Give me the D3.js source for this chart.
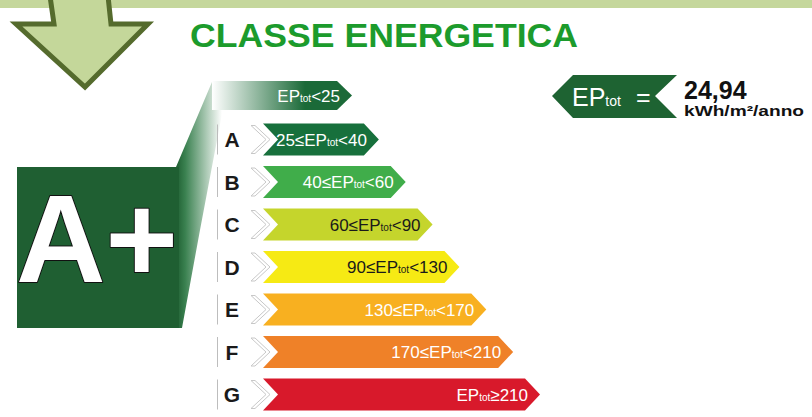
<!DOCTYPE html>
<html>
<head>
<meta charset="utf-8">
<script src="https://cdn.jsdelivr.net/npm/d3@7"></script>
<style>
  html, body { margin: 0; padding: 0; background: #fff; }
  svg { display: block; font-family: "Liberation Sans", Arial, sans-serif; }
</style>
</head>
<body>
<svg id="chart" width="812" height="417"></svg>
<script>
// rows of the energy label, top one is the A+ class
const rows = ['A+', 'A', 'B', 'C', 'D', 'E', 'F', 'G'];
const rowLetters = ['', 'A', 'B', 'C', 'D', 'E', 'F', 'G'];
// label text as [before, subscript, after]
const rowRanges = [
  ['EP', 'tot', '<25'],
  ['25≤EP', 'tot', '<40'],
  ['40≤EP', 'tot', '<60'],
  ['60≤EP', 'tot', '<90'],
  ['90≤EP', 'tot', '<130'],
  ['130≤EP', 'tot', '<170'],
  ['170≤EP', 'tot', '<210'],
  ['EP', 'tot', '≥210']
];
const rowColors = ['#1b6a38', '#17703c', '#40ad4a', '#c5d52c', '#f6ea14', '#f8b020', '#ef8128', '#d8192b'];
const rowTextColors = ['#fff', '#fff', '#fff', '#1a1a1a', '#1a1a1a', '#fff', '#fff', '#fff'];
const currentClass = 'A+';
const epTot = 24.94;
const epUnit = 'kWh/m²/anno';
const title = 'CLASSE ENERGETICA';

const svg = d3.select('#chart');
const defs = svg.append('defs');

// scales: one band per row, the tip of each bar steps right
const y = d3.scaleBand().domain(rows).range([81, 81 + 42.5 * (rows.length - 0.247)]).paddingInner(0.247);
const tipX = d3.scalePoint().domain(rows).range([352, 540]);
const barLeft = 263, notch = 15, tipDepth = 15;

// top band + arrow
svg.append('rect')
  .attr('x', 0).attr('y', 0).attr('width', 812).attr('height', 8)
  .attr('fill', '#c5d79c');
svg.append('path')
  .attr('d', 'M50,-4 L54,24 L16,24 L85,87 L148,24 L111,24 L108,-4')
  .attr('fill', '#c4d79a')
  .attr('stroke', '#556b2d')
  .attr('stroke-width', 5)
  .attr('stroke-linejoin', 'miter');

// title
svg.append('text')
  .attr('x', 190).attr('y', 47)
  .attr('font-size', 34).attr('font-weight', 'bold')
  .attr('fill', '#1c9b2c')
  .attr('textLength', 388)
  .attr('lengthAdjust', 'spacingAndGlyphs')
  .text(title);

// fold between the big box and the first bar
const foldGrad = defs.append('linearGradient')
  .attr('id', 'fold').attr('gradientUnits', 'userSpaceOnUse')
  .attr('x1', 176).attr('y1', 0).attr('x2', 222).attr('y2', 0);
foldGrad.append('stop').attr('offset', 0).attr('stop-color', '#1f5f32');
foldGrad.append('stop').attr('offset', 0.2).attr('stop-color', '#3a8150');
foldGrad.append('stop').attr('offset', 1).attr('stop-color', '#ffffff');
svg.append('path')
  .attr('d', 'M176,167 L212,82 L228,82 L200,230 L182,328 L176,328 Z')
  .attr('fill', 'url(#fold)');

// big class box
svg.append('rect')
  .attr('x', 17).attr('y', 167).attr('width', 162).attr('height', 161)
  .attr('fill', '#1f5f32');
svg.append('text')
  .attr('x', 16).attr('y', 282)
  .attr('font-size', 124).attr('font-weight', 'bold')
  .attr('fill', '#fff')
  .attr('stroke', '#111').attr('stroke-width', 2)
  .attr('paint-order', 'stroke')
  .attr('stroke-linejoin', 'round')
  .text(currentClass);

// gradient for the top bar
const topGrad = defs.append('linearGradient')
  .attr('id', 'topbar').attr('gradientUnits', 'userSpaceOnUse')
  .attr('x1', 212).attr('y1', 0).attr('x2', 305).attr('y2', 0);
topGrad.append('stop').attr('offset', 0).attr('stop-color', '#ffffff');
topGrad.append('stop').attr('offset', 1).attr('stop-color', rowColors[0]);

const data = rows.map((r, i) => ({
  key: r, letter: rowLetters[i], range: rowRanges[i],
  color: rowColors[i], textColor: rowTextColors[i], index: i
}));

const g = svg.selectAll('g.row').data(data).enter()
  .append('g').attr('class', 'row');

// separators, letters and grey chevrons (not for the top row)
const lettered = g.filter(d => d.index > 0);
lettered.append('line')
  .attr('x1', 217.5).attr('x2', 217.5)
  .attr('y1', d => y(d.key) + 1)
  .attr('y2', d => y(d.key) + y.bandwidth() - 1)
  .attr('stroke', '#bdbdbd').attr('stroke-width', 1);
lettered.append('text')
  .attr('x', 232).attr('y', d => y(d.key) + y.bandwidth() / 2 + 7.5)
  .attr('text-anchor', 'middle')
  .attr('font-size', 21).attr('font-weight', 'bold')
  .attr('fill', '#1a1a1a')
  .text(d => d.letter);
lettered.append('path')
  .attr('d', d => {
    const t = y(d.key) + 2, b = y(d.key) + y.bandwidth() - 2, m = (t + b) / 2;
    return `M251,${t} L255,${t} L270,${m} L255,${b} L251,${b} L266,${m} Z`;
  })
  .attr('fill', '#fff').attr('stroke', '#c8c8c8').attr('stroke-width', 1);

// bars
g.append('path')
  .attr('d', d => {
    const t = y(d.key), b = t + (d.index === 0 ? 29 : y.bandwidth()), m = (t + b) / 2;
    const tip = tipX(d.key);
    const left = d.index === 0 ? 'M212,' + t + ' L' + (tip - tipDepth) + ',' + t
      : 'M' + barLeft + ',' + t + ' L' + (tip - tipDepth) + ',' + t;
    const back = d.index === 0 ? ' L212,' + b + ' Z'
      : ' L' + barLeft + ',' + b + ' L' + (barLeft + notch) + ',' + m + ' Z';
    return left + ' L' + tip + ',' + m + ' L' + (tip - tipDepth) + ',' + b + back;
  })
  .attr('fill', d => d.index === 0 ? 'url(#topbar)' : d.color);

const labels = g.append('text')
  .attr('x', d => tipX(d.key) - 12)
  .attr('y', d => y(d.key) + (d.index === 0 ? 29 : y.bandwidth()) / 2 + 6)
  .attr('text-anchor', 'end')
  .attr('font-size', 17)
  .attr('fill', d => d.textColor);
labels.append('tspan').text(d => d.range[0]);
labels.append('tspan').attr('font-size', 10).text(d => d.range[1]);
labels.append('tspan').text(d => d.range[2]);

// EPtot indicator
svg.append('path')
  .attr('d', 'M552,96 L573,75 L677,75 L655,96 L677,118 L573,118 Z')
  .attr('fill', '#1e6332');
const ep = svg.append('text')
  .attr('x', 572).attr('y', 106)
  .attr('font-size', 25).attr('fill', '#fff');
ep.append('tspan').text('EP');
ep.append('tspan').attr('font-size', 14).text('tot');
ep.append('tspan').attr('x', 636).text('=');

svg.append('text')
  .attr('x', 684).attr('y', 99)
  .attr('font-size', 25).attr('font-weight', 'bold')
  .attr('fill', '#111')
  .text(epTot.toFixed(2).replace('.', ','));
svg.append('text')
  .attr('x', 684).attr('y', 116)
  .attr('font-size', 15).attr('font-weight', 'bold')
  .attr('fill', '#111')
  .attr('textLength', 120)
  .attr('lengthAdjust', 'spacingAndGlyphs')
  .text(epUnit);
</script>
</body>
</html>
